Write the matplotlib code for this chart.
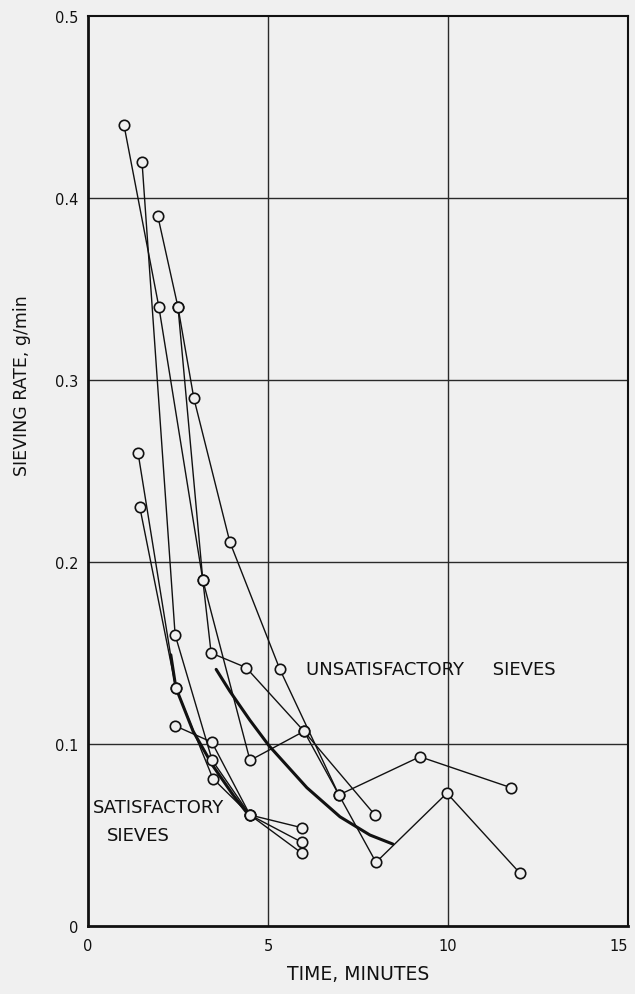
import matplotlib
matplotlib.use('Agg')
import matplotlib.pyplot as plt

# sieving rate (g/min) against time (minutes)
# unsatisfactory sieves
unsat_a_t = [1.0, 1.97, 3.19, 3.42, 4.39, 6.0, 7.97]
unsat_a_r = [0.44, 0.34, 0.19, 0.15, 0.142, 0.107, 0.061]
unsat_b_t = [1.94, 2.5, 2.94, 3.94, 5.33, 6.97, 9.22, 11.75]
unsat_b_r = [0.39, 0.34, 0.29, 0.211, 0.141, 0.072, 0.093, 0.076]
unsat_c_t = [2.5, 3.19, 4.5, 6.0, 6.97, 8.0, 9.97, 12.0]
unsat_c_r = [0.34, 0.19, 0.091, 0.107, 0.072, 0.035, 0.073, 0.029]

# satisfactory sieves
sat_a_t = [1.5, 2.42, 3.45, 4.5, 5.94]
sat_a_r = [0.42, 0.16, 0.091, 0.061, 0.046]
sat_b_t = [1.39, 2.44, 3.47, 4.5, 5.94]
sat_b_r = [0.26, 0.131, 0.081, 0.061, 0.054]
sat_c_t = [1.44, 2.44]
sat_c_r = [0.23, 0.131]
sat_d_t = [2.42, 3.44, 4.5, 5.94]
sat_d_r = [0.11, 0.101, 0.061, 0.040]

# heavy mean curves
unsat_mean_t = [3.56, 3.94, 4.5, 5.03, 6.08, 7.0, 7.83, 8.47]
unsat_mean_r = [0.141, 0.129, 0.113, 0.099, 0.076, 0.060, 0.050, 0.045]
sat_mean_t = [2.3, 2.44, 2.92, 3.47, 4.03, 4.5]
sat_mean_r = [0.149, 0.131, 0.107, 0.088, 0.072, 0.060]

x_ticks = [0, 5, 10, 15]
y_ticks = [0, 0.1, 0.2, 0.3, 0.4, 0.5]
y_tick_labels = ['0', '0.1', '0.2', '0.3', '0.4', '0.5']

bg = '#f0f0f0'
ink = '#111111'

plt.rcParams['font.family'] = 'DejaVu Sans'

fig = plt.figure(figsize=(6.35, 9.95), dpi=100, facecolor=bg)
ax = fig.add_axes([88 / 635, 1 - 927 / 995, 540 / 635, 910 / 995])
ax.set_facecolor(bg)

# grid
for gx in [5, 10]:
    ax.axvline(gx, color='#2a2a2a', lw=1.0, zorder=1)
for gy in [0.1, 0.2, 0.3, 0.4]:
    ax.axhline(gy, color='#2a2a2a', lw=1.0, zorder=1)

series = [
    (unsat_a_t, unsat_a_r), (unsat_b_t, unsat_b_r), (unsat_c_t, unsat_c_r),
    (sat_a_t, sat_a_r), (sat_b_t, sat_b_r), (sat_c_t, sat_c_r), (sat_d_t, sat_d_r),
]
for t, r in series:
    ax.plot(t, r, color=ink, lw=1.0, zorder=2)
    ax.plot(t, r, ls='none', marker='o', ms=7.5, mfc=bg, mec=ink, mew=1.2, zorder=4)

ax.plot(unsat_mean_t, unsat_mean_r, color=ink, lw=2.2, zorder=3, solid_capstyle='round')
ax.plot(sat_mean_t, sat_mean_r, color=ink, lw=2.2, zorder=3, solid_capstyle='round')

ax.text(6.05, 0.141, 'UNSATISFACTORY     SIEVES', fontsize=13, color=ink, va='center', ha='left')
ax.text(0.14, 0.0655, 'SATISFACTORY', fontsize=13, color=ink, va='center', ha='left')
ax.text(0.53, 0.050, 'SIEVES', fontsize=13, color=ink, va='center', ha='left')

ax.set_xlim(0, 15)
ax.set_ylim(0, 0.5)
ax.set_xticks(x_ticks)
ax.set_xticklabels([str(v) for v in x_ticks], fontsize=10.5, color=ink)
ax.get_xticklabels()[-1].set_horizontalalignment('right')
ax.set_yticks(y_ticks)
ax.set_yticklabels(y_tick_labels, fontsize=10.5, color=ink)
ax.tick_params(axis='both', length=0)
ax.tick_params(axis='x', pad=9)
ax.tick_params(axis='y', pad=7)
for side in ['left', 'bottom']:
    ax.spines[side].set_linewidth(2.0)
for side in ['top', 'right']:
    ax.spines[side].set_linewidth(1.5)
for s in ax.spines.values():
    s.set_color(ink)

fig.text(22 / 635, 1 - 386 / 995, 'SIEVING RATE, g/min', rotation=90, fontsize=12.5,
         color=ink, ha='center', va='center')
fig.text(358 / 635, 1 - 975 / 995, 'TIME, MINUTES', fontsize=13.5, color=ink,
         ha='center', va='center')

fig.savefig('out.png', dpi=100, facecolor=bg)
